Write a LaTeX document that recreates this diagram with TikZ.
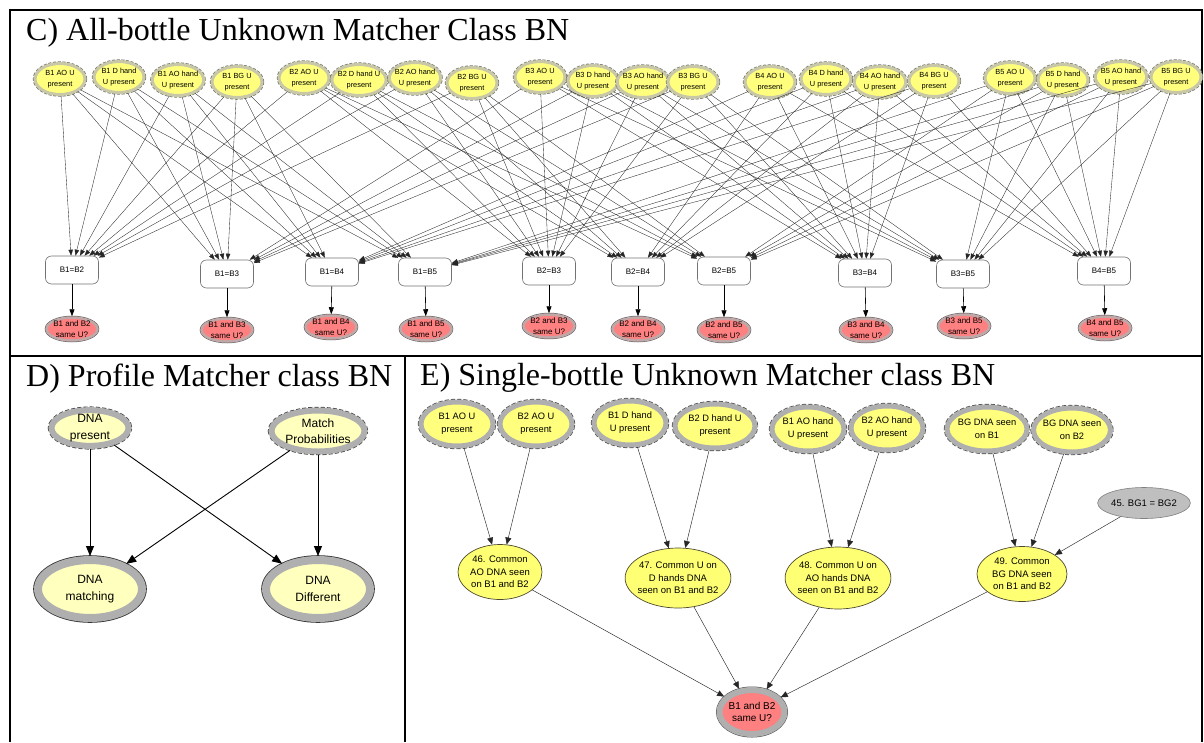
\documentclass[tikz,border=0pt]{standalone}
\usepackage{fontspec}
\setmainfont{Liberation Serif}
\newfontfamily\bnsans{Liberation Sans}
\usetikzlibrary{shapes.geometric}
\usetikzlibrary{arrows.meta}

\definecolor{presyellow}{RGB}{255,255,125}
\definecolor{paleyellow}{RGB}{255,255,190}
\definecolor{midyellow}{RGB}{255,255,115}
\definecolor{khakiring}{RGB}{200,200,168}
\definecolor{grayring}{RGB}{175,175,175}
\definecolor{pinkring}{RGB}{192,168,168}
\definecolor{samered}{RGB}{255,128,128}
\definecolor{dashgray}{RGB}{120,120,110}

\begin{document}
\begin{tikzpicture}[x=1pt,y=-1pt]
    \tikzstyle{frame}        = [line width=2pt,black]
    \tikzstyle{title}        = [anchor=base west,inner sep=0pt,font=\fontsize{32}{36}\selectfont]
    \tikzstyle{present}      = [ellipse,inner sep=-2pt,minimum width=50pt,minimum height=31pt,
                                fill=presyellow,draw=khakiring,line width=3pt,
                                preaction={draw=dashgray,dash pattern=on 3pt off 1.5pt,line width=4.4pt},
                                align=center,font=\bnsans\fontsize{7.4}{11}\selectfont]
    \tikzstyle{compare}      = [rectangle,rounded corners=6pt,minimum width=53pt,minimum height=28pt,
                                fill=white,draw=black!55,line width=0.6pt,font=\bnsans\fontsize{8}{10}\selectfont]
    \tikzstyle{same}         = [ellipse,inner sep=-2pt,minimum width=51pt,minimum height=23pt,
                                fill=samered,draw=pinkring,line width=2.5pt,
                                preaction={draw=black!65,line width=3.5pt},
                                align=center,font=\bnsans\fontsize{8}{10.5}\selectfont]
    \tikzstyle{edge}         = [-{Triangle[length=6pt,width=4.5pt]},line width=0.35pt,black!85]
    \tikzstyle{short edge}   = [-{Triangle[length=7pt,width=5pt]},line width=0.6pt,black]

    \tikzstyle{profile in}   = [ellipse,inner sep=-1pt,fill=paleyellow,draw=grayring,line width=6pt,
                                preaction={draw=black!75,dash pattern=on 4pt off 2pt,line width=7.4pt},
                                align=center,font=\bnsans\fontsize{12}{16.5}\selectfont]
    \tikzstyle{profile out}  = [ellipse,inner sep=-1pt,minimum width=104pt,minimum height=58pt,
                                fill=paleyellow,draw=grayring,line width=8pt,
                                preaction={draw=black!80,line width=9.6pt},
                                align=center,font=\bnsans\fontsize{12}{16.5}\selectfont]
    \tikzstyle{thick edge}   = [-{Triangle[length=10pt,width=8pt]},line width=0.9pt,black]

    \tikzstyle{single in}    = [ellipse,inner sep=-2pt,minimum width=72pt,minimum height=44pt,
                                fill=presyellow,draw=grayring,line width=5pt,
                                preaction={draw=black!70,dash pattern=on 4pt off 2pt,line width=6.4pt},
                                align=center,font=\bnsans\fontsize{9.3}{13}\selectfont]
    \tikzstyle{common}       = [ellipse,inner sep=-3pt,fill=midyellow,draw=black!60!olive,line width=0.7pt,
                                align=center,font=\bnsans\fontsize{9.5}{12.3}\selectfont]
    \tikzstyle{bg equal}     = [ellipse,minimum width=82pt,minimum height=31pt,inner sep=0pt,
                                fill=black!25,draw=black!50,line width=0.6pt,font=\bnsans\fontsize{9.5}{12}\selectfont]
    \tikzstyle{single same}  = [ellipse,inner sep=-2pt,minimum width=65pt,minimum height=44pt,
                                fill=samered,draw=grayring,line width=6pt,
                                preaction={draw=black!70,line width=7pt},
                                align=center,font=\bnsans\fontsize{10}{12.5}\selectfont]
    \tikzstyle{single edge}  = [-{Triangle[length=7pt,width=6pt]},line width=0.45pt,black!85]

    \useasboundingbox (0,0) rectangle (1204,742);

    % table lines
    \draw[frame] (10,10) -- (1202,10);
    \draw[frame] (10,9) -- (10,742);
    \draw[frame] (1202,9) -- (1202,742);
    \draw[frame,line width=2.5pt] (10,356) -- (1202,356);
    \draw[frame] (405,356) -- (405,742);

    % C) all-bottle unknown matcher
    \node[title] (titleC) at (26,40) {C) All-bottle Unknown Matcher Class BN};

    \node[present] (b1ao)  at (60,79)   {B1 AO U\\present};
    \node[present] (b1d)   at (119,77)  {B1 D hand\\U present};
    \node[present] (b1aoh) at (178,80)  {B1 AO hand\\U present};
    \node[present] (b1bg)  at (237,82)  {B1 BG U\\present};
    \node[present] (b2ao)  at (304,78)  {B2 AO U\\present};
    \node[present] (b2d)   at (359,80)  {B2 D hand U\\present};
    \node[present] (b2aoh) at (415,78)  {B2 AO hand\\U present};
    \node[present] (b2bg)  at (472,83)  {B2 BG U\\present};
    \node[present] (b3ao)  at (540,77)  {B3 AO U\\present};
    \node[present] (b3d)   at (593,81)  {B3 D hand\\U present};
    \node[present] (b3aoh) at (643,82)  {B3 AO hand\\U present};
    \node[present] (b3bg)  at (693,82)  {B3 BG U\\present};
    \node[present] (b4ao)  at (770,82)  {B4 AO U\\present};
    \node[present] (b4d)   at (826,79)  {B4 D hand\\U present};
    \node[present] (b4aoh) at (880,82)  {B4 AO hand\\U present};
    \node[present] (b4bg)  at (934,81)  {B4 BG U\\present};
    \node[present] (b5ao)  at (1010,78) {B5 AO U\\present};
    \node[present] (b5d)   at (1063,80) {B5 D hand\\U present};
    \node[present] (b5aoh) at (1121,77) {B5 AO hand\\U present};
    \node[present] (b5bg)  at (1176,77) {B5 BG U\\present};

    \node[compare] (eq12) at (72,270)   {B1=B2};
    \node[compare] (eq13) at (227,274)  {B1=B3};
    \node[compare] (eq14) at (332,272)  {B1=B4};
    \node[compare] (eq15) at (425,272)  {B1=B5};
    \node[compare] (eq23) at (549,271)  {B2=B3};
    \node[compare] (eq24) at (638,272)  {B2=B4};
    \node[compare] (eq25) at (724,271)  {B2=B5};
    \node[compare] (eq34) at (865,273)  {B3=B4};
    \node[compare] (eq35) at (963,274)  {B3=B5};
    \node[compare] (eq45) at (1104,271) {B4=B5};

    \node[same] (same12) at (72,329)   {B1 and B2\\same U?};
    \node[same] (same13) at (227,330)  {B1 and B3\\same U?};
    \node[same] (same14) at (331,327)  {B1 and B4\\same U?};
    \node[same] (same15) at (426,329)  {B1 and B5\\same U?};
    \node[same] (same23) at (549,326)  {B2 and B3\\same U?};
    \node[same] (same24) at (638,329)  {B2 and B4\\same U?};
    \node[same] (same25) at (724,330)  {B2 and B5\\same U?};
    \node[same] (same34) at (866,330)  {B3 and B4\\same U?};
    \node[same] (same35) at (964,326)  {B3 and B5\\same U?};
    \node[same] (same45) at (1105,328) {B4 and B5\\same U?};

    \foreach \i/\j in {1/2,1/3,1/4,1/5,2/3,2/4,2/5,3/4,3/5,4/5}{
        \foreach \t in {ao,d,aoh,bg}{
            \draw[edge] (b\i\t) -- (eq\i\j);
            \draw[edge] (b\j\t) -- (eq\i\j);
        }
        \draw[short edge] (eq\i\j) -- (same\i\j);
    }

    % D) profile matcher
    \node[title] (titleD) at (26,386) {D) Profile Matcher class BN};

    \node[profile in,minimum width=77pt,minimum height=35pt] (dnapres) at (90,428)  {DNA\\present};
    \node[profile in,minimum width=93pt,minimum height=41pt] (matchpr) at (318,431) {Match\\Probabilities};
    \node[profile out] (dnamatch) at (90,589)  {DNA\\matching};
    \node[profile out] (dnadiff)  at (318,589) {DNA\\Different};

    \draw[thick edge] (dnapres) -- (dnamatch);
    \draw[thick edge] (dnapres) -- (dnadiff);
    \draw[thick edge] (matchpr) -- (dnamatch);
    \draw[thick edge] (matchpr) -- (dnadiff);

    % E) single-bottle unknown matcher
    \node[title] (titleE) at (420,385) {E) Single-bottle Unknown Matcher class BN};

    \node[single in] (sb1ao)  at (457,424)  {B1 AO U\\present};
    \node[single in] (sb2ao)  at (536,424)  {B2 AO U\\present};
    \node[single in] (sb1d)   at (630,423)  {B1 D hand\\U present};
    \node[single in,minimum width=80pt] (sb2d) at (715,426) {B2 D hand U\\present};
    \node[single in] (sb1aoh) at (808,429)  {B1 AO hand\\U present};
    \node[single in] (sb2aoh) at (887,428)  {B2 AO hand\\U present};
    \node[single in,minimum width=80pt] (sbg1) at (987,429) {BG DNA seen\\on B1};
    \node[single in] (sbg2)   at (1072,430) {BG DNA seen\\on B2};
    \node[bg equal]  (bgeq)   at (1144,503) {45. BG1 = BG2};

    \node[common,minimum width=84pt,minimum height=55pt] (c46) at (500,572)  {46. Common\\AO DNA seen\\on B1 and B2};
    \node[common,minimum width=98pt,minimum height=60pt] (c47) at (678,578)  {47. Common U on\\D hands DNA\\seen on B1 and B2};
    \node[common,minimum width=98pt,minimum height=62pt] (c48) at (838,578)  {48. Common U on\\AO hands DNA\\seen on B1 and B2};
    \node[common,minimum width=90pt,minimum height=55pt] (c49) at (1022,574) {49. Common\\BG DNA seen\\on B1 and B2};

    \node[single same] (ssame) at (752,712) {B1 and B2\\same U?};

    \draw[single edge] (sb1ao) -- (c46);
    \draw[single edge] (sb2ao) -- (c46);
    \draw[single edge] (sb1d) -- (c47);
    \draw[single edge] (sb2d) -- (c47);
    \draw[single edge] (sb1aoh) -- (c48);
    \draw[single edge] (sb2aoh) -- (c48);
    \draw[single edge] (sbg1) -- (c49);
    \draw[single edge] (sbg2) -- (c49);
    \draw[single edge] (bgeq) -- (c49);
    \foreach \c in {c46,c47,c48,c49}
        \draw[single edge] (\c) -- (ssame);
\end{tikzpicture}
\end{document}
